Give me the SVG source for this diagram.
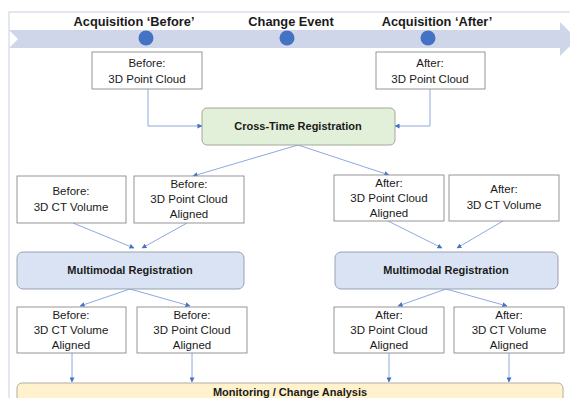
<svg xmlns="http://www.w3.org/2000/svg" width="570" height="398" viewBox="0 0 570 398">
<defs>
<style>
.t{font-family:"Liberation Sans",Arial,sans-serif;font-size:11.5px;fill:#1a1a1a;text-anchor:middle}
.b{font-weight:bold;font-size:11px}
.h{font-weight:bold;font-size:12.8px}
.box{fill:#fff;stroke:#8a8a8a;stroke-width:0.9}
.rg{fill:#e2efd9;stroke:#9aa08f;stroke-width:0.9}
.rb{fill:#dae3f3;stroke:#8f98a8;stroke-width:0.9}
.ry{fill:#fff2cc;stroke:#a8a49a;stroke-width:0.9}
.c{fill:none;stroke:#6f93d8;stroke-width:0.8;marker-end:url(#ah)}
</style>
<marker id="ah" viewBox="0 0 6 6" refX="5.5" refY="3" markerWidth="5" markerHeight="5" orient="auto" markerUnits="userSpaceOnUse">
<path d="M0,0 L6,3 L0,6 z" fill="#4472c4"/>
</marker>
</defs>
<rect width="570" height="398" fill="#fff"/>
<rect x="9" y="12" width="590" height="420" fill="none" stroke="#c8d0e0" stroke-width="1"/>
<g id="timeline">
<polygon points="9,30 560,30 560,22 577,39 560,56 560,48 9,48 18,39" fill="#d0d6ea"/>
<circle cx="146" cy="38" r="7.5" fill="#4472c4"/>
<circle cx="287" cy="38" r="7.5" fill="#4472c4"/>
<circle cx="428" cy="38" r="7.5" fill="#4472c4"/>
<text class="t h" x="134" y="26">Acquisition ‘Before’</text>
<text class="t h" x="291" y="26">Change Event</text>
<text class="t h" x="437" y="26">Acquisition ‘After’</text>
</g>
<g id="connectors">
<polyline class="c" points="148,89 148,126 202,126"/>
<polyline class="c" points="430,89 430,126 395,126"/>
<line class="c" x1="298" y1="145" x2="193" y2="176"/>
<line class="c" x1="298" y1="145" x2="389" y2="175"/>
<line class="c" x1="73" y1="223" x2="134" y2="248"/>
<line class="c" x1="187" y1="223" x2="142" y2="248"/>
<line class="c" x1="388" y1="221" x2="442" y2="248"/>
<line class="c" x1="503" y1="221" x2="457" y2="248"/>
<line class="c" x1="130" y1="289" x2="80" y2="306"/>
<line class="c" x1="130" y1="289" x2="190" y2="306"/>
<line class="c" x1="446" y1="289" x2="398" y2="306"/>
<line class="c" x1="446" y1="289" x2="507" y2="306"/>
<line class="c" x1="72" y1="353" x2="72" y2="382"/>
<line class="c" x1="192" y1="353" x2="192" y2="382"/>
<line class="c" x1="389" y1="353" x2="389" y2="382"/>
<line class="c" x1="509" y1="353" x2="509" y2="382"/>
</g>
<g id="before-pc">
<rect class="box" x="92" y="52" width="110" height="37"/>
<text class="t" x="147" y="67">Before:</text>
<text class="t" x="147" y="83">3D Point Cloud</text>
</g>
<g id="after-pc">
<rect class="box" x="376" y="52" width="109" height="37"/>
<text class="t" x="430" y="67">After:</text>
<text class="t" x="430" y="83">3D Point Cloud</text>
</g>
<g id="cross-time">
<rect class="rg" x="202" y="108" width="193" height="37" rx="5"/>
<text class="t b" x="298" y="130">Cross-Time Registration</text>
</g>
<g id="before-ct">
<rect class="box" x="17" y="176" width="109" height="47"/>
<text class="t" x="71" y="195">Before:</text>
<text class="t" x="71" y="211">3D CT Volume</text>
</g>
<g id="before-pc-aligned">
<rect class="box" x="134" y="176" width="110" height="47"/>
<text class="t" x="189" y="188">Before:</text>
<text class="t" x="189" y="203">3D Point Cloud</text>
<text class="t" x="189" y="218">Aligned</text>
</g>
<g id="after-pc-aligned">
<rect class="box" x="334" y="175" width="110" height="46"/>
<text class="t" x="389" y="187">After:</text>
<text class="t" x="389" y="202">3D Point Cloud</text>
<text class="t" x="389" y="217">Aligned</text>
</g>
<g id="after-ct">
<rect class="box" x="449" y="175" width="110" height="46"/>
<text class="t" x="504" y="193">After:</text>
<text class="t" x="504" y="209">3D CT Volume</text>
</g>
<g id="mm-left">
<rect class="rb" x="17" y="252" width="227" height="37" rx="6"/>
<text class="t b" x="130" y="274">Multimodal Registration</text>
</g>
<g id="mm-right">
<rect class="rb" x="335" y="252" width="223" height="37" rx="6"/>
<text class="t b" x="446" y="274">Multimodal Registration</text>
</g>
<g id="before-ct-aligned">
<rect class="box" x="17" y="307" width="109" height="46"/>
<text class="t" x="71" y="319">Before:</text>
<text class="t" x="71" y="334">3D CT Volume</text>
<text class="t" x="71" y="349">Aligned</text>
</g>
<g id="before-pc-aligned2">
<rect class="box" x="137" y="307" width="110" height="46"/>
<text class="t" x="192" y="319">Before:</text>
<text class="t" x="192" y="334">3D Point Cloud</text>
<text class="t" x="192" y="349">Aligned</text>
</g>
<g id="after-pc-aligned2">
<rect class="box" x="334" y="307" width="110" height="46"/>
<text class="t" x="389" y="319">After:</text>
<text class="t" x="389" y="334">3D Point Cloud</text>
<text class="t" x="389" y="349">Aligned</text>
</g>
<g id="after-ct-aligned">
<rect class="box" x="454" y="307" width="110" height="46"/>
<text class="t" x="509" y="319">After:</text>
<text class="t" x="509" y="334">3D CT Volume</text>
<text class="t" x="509" y="349">Aligned</text>
</g>
<g id="monitoring">
<rect class="ry" x="17" y="383" width="546" height="30" rx="5"/>
<text class="t b" x="290" y="396">Monitoring / Change Analysis</text>
</g>
</svg>
